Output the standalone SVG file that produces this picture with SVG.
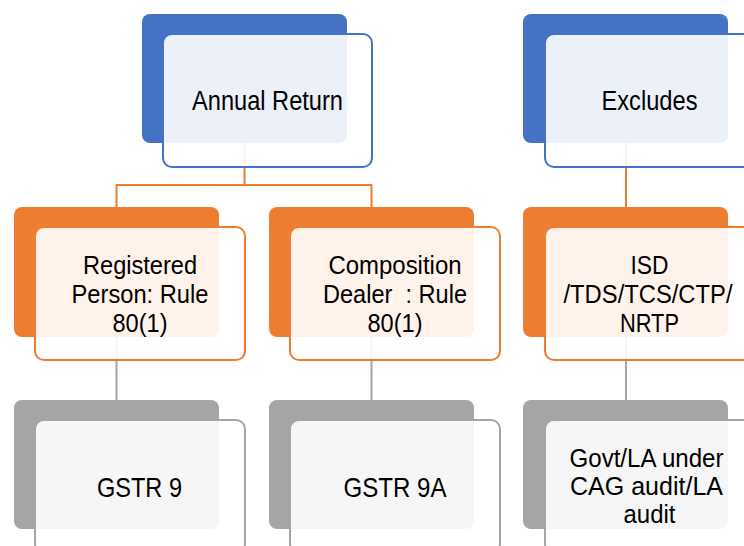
<svg xmlns="http://www.w3.org/2000/svg" width="744" height="546" viewBox="0 0 744 546">
<style>
.back{rx:8px;ry:8px}
.front{rx:9px;ry:9px;fill:#ffffff;fill-opacity:0.9;stroke-width:2}
.blue .back{fill:#4472C4}.blue .front{stroke:#4472C4}
.orange .back{fill:#ED7D31}.orange .front{stroke:#ED7D31}
.gray .back{fill:#A5A5A5}.gray .front{stroke:#A5A5A5}
text{font-family:"Liberation Sans",Arial,sans-serif;fill:#000;text-anchor:middle}
.c{fill:none;stroke-width:2}
.co{stroke:#ED7D31}.cg{stroke:#A5A5A5}
</style>
<rect width="744" height="546" fill="#ffffff"/>
<g id="connectors">
<path class="c co" d="M244.5 143 V185 M116.5 207 V185 H371.5 V207"/>
<path class="c co" d="M626 143 V207"/>
<path class="c cg" d="M116.5 337 V400"/>
<path class="c cg" d="M371.5 337 V400"/>
<path class="c cg" d="M626 337 V400"/>
</g>
<g id="annual-return" class="blue">
<rect class="back" x="142" y="14" width="205" height="129"/>
<rect class="front" x="163" y="34" width="209" height="133"/>
<text x="267.5" y="109.5" font-size="27.5" textLength="151" lengthAdjust="spacingAndGlyphs">Annual Return</text>
</g>
<g id="excludes" class="blue">
<rect class="back" x="523" y="14" width="205" height="129"/>
<rect class="front" x="545" y="34" width="209" height="133"/>
<text x="649.5" y="109.5" font-size="27.5" textLength="96" lengthAdjust="spacingAndGlyphs">Excludes</text>
</g>
<g id="registered-person" class="orange">
<rect class="back" x="14" y="207" width="205" height="130"/>
<rect class="front" x="35" y="227" width="210" height="133"/>
<text x="140" y="273.5" font-size="25.5" textLength="114" lengthAdjust="spacingAndGlyphs">Registered</text>
<text x="140" y="302.5" font-size="25.5" textLength="137" lengthAdjust="spacingAndGlyphs">Person: Rule</text>
<text x="140" y="331.5" font-size="25.5" textLength="55" lengthAdjust="spacingAndGlyphs">80(1)</text>
</g>
<g id="composition-dealer" class="orange">
<rect class="back" x="269" y="207" width="205" height="130"/>
<rect class="front" x="290" y="227" width="210" height="133"/>
<text x="395" y="273.5" font-size="25.5" textLength="133" lengthAdjust="spacingAndGlyphs">Composition</text>
<text x="395" y="302.5" font-size="25.5" textLength="144" lengthAdjust="spacingAndGlyphs" style="white-space:pre">Dealer  : Rule</text>
<text x="395" y="331.5" font-size="25.5" textLength="55" lengthAdjust="spacingAndGlyphs">80(1)</text>
</g>
<g id="isd" class="orange">
<rect class="back" x="523" y="207" width="205" height="130"/>
<rect class="front" x="545" y="227" width="210" height="133"/>
<text x="649.5" y="273.5" font-size="25.5" textLength="38" lengthAdjust="spacingAndGlyphs">ISD</text>
<text x="648" y="302.5" font-size="25.5" textLength="169" lengthAdjust="spacingAndGlyphs">/TDS/TCS/CTP/</text>
<text x="649.5" y="331.5" font-size="25.5" textLength="59" lengthAdjust="spacingAndGlyphs">NRTP</text>
</g>
<g id="gstr9" class="gray">
<rect class="back" x="14" y="400" width="205" height="129"/>
<rect class="front" x="35" y="420" width="210" height="133"/>
<text x="139.5" y="497" font-size="28" textLength="85" lengthAdjust="spacingAndGlyphs">GSTR 9</text>
</g>
<g id="gstr9a" class="gray">
<rect class="back" x="269" y="400" width="205" height="129"/>
<rect class="front" x="290" y="420" width="210" height="133"/>
<text x="395" y="497" font-size="28" textLength="103" lengthAdjust="spacingAndGlyphs">GSTR 9A</text>
</g>
<g id="govt" class="gray">
<rect class="back" x="523" y="400" width="205" height="129"/>
<rect class="front" x="545" y="420" width="210" height="133"/>
<text x="646.5" y="467" font-size="26.5" textLength="154" lengthAdjust="spacingAndGlyphs">Govt/LA under</text>
<text x="646.5" y="495" font-size="26.5" textLength="153" lengthAdjust="spacingAndGlyphs">CAG audit/LA</text>
<text x="649.5" y="523" font-size="26.5" textLength="52" lengthAdjust="spacingAndGlyphs">audit</text>
</g>
</svg>
